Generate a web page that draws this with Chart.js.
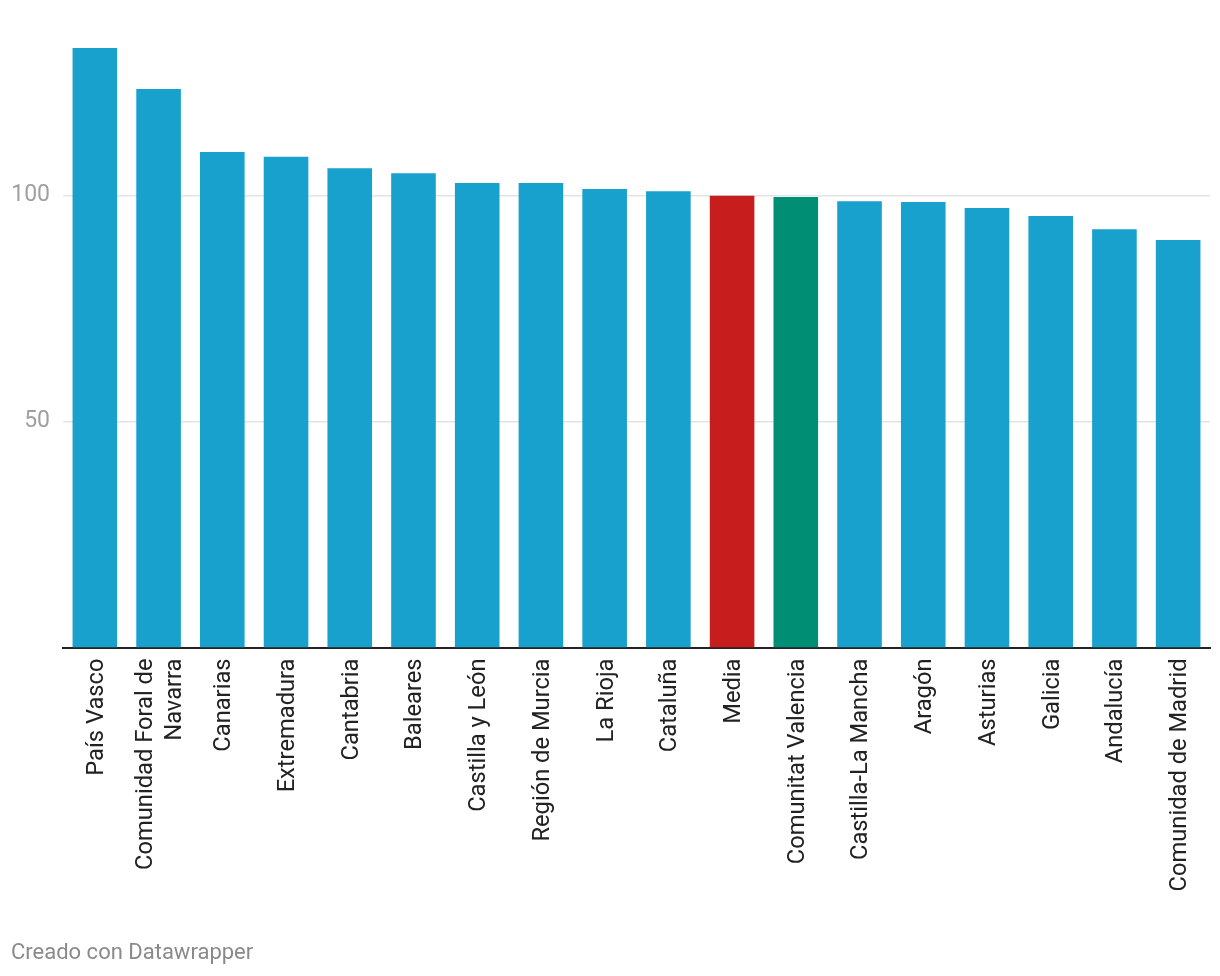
<!DOCTYPE html>
<html><head><meta charset="utf-8">
<script src="https://cdn.jsdelivr.net/npm/chart.js@4"></script>
<style>
html,body{margin:0;padding:0;background:#fff;}
#wrap{position:absolute;left:0;top:0;width:1220px;height:976px;}
#credit{position:absolute;left:11px;top:938px;font:22px Roboto, sans-serif;color:#8a8a8a;line-height:28px;}
</style>
</head><body>
<div id="wrap"><canvas id="c"></canvas></div>
<div id="credit">Creado con Datawrapper</div>
<script>
const categories = [
  'País Vasco', ['Comunidad Foral de', 'Navarra'], 'Canarias', 'Extremadura', 'Cantabria',
  'Baleares', 'Castilla y León', 'Región de Murcia', 'La Rioja', 'Cataluña', 'Media',
  'Comunitat Valencia', 'Castilla-La Mancha', 'Aragón', 'Asturias', 'Galicia', 'Andalucía',
  'Comunidad de Madrid'
];
const values = [132.7, 123.6, 109.7, 108.6, 106.1, 105.0, 102.8, 102.8, 101.5, 101.0, 100.0,
  99.7, 98.8, 98.6, 97.3, 95.5, 92.6, 90.2];
const barColors = ['#18a1cd','#18a1cd','#18a1cd','#18a1cd','#18a1cd','#18a1cd','#18a1cd','#18a1cd',
  '#18a1cd','#18a1cd','#c71e1d','#008f75','#18a1cd','#18a1cd','#18a1cd','#18a1cd','#18a1cd','#18a1cd'];
const yTicks = [50, 100];

// centre multi-line rotated category labels on their tick
const centerMultiline = {
  id: 'centerMultiline',
  beforeDraw(chart) {
    const s = chart.scales.x;
    const items = s.getLabelItems();
    items.forEach(it => {
      if (Array.isArray(it.label) && it.label.length > 1 && !it._centred) {
        it.options.translation[0] -= (it.label.length - 1) * it.font.lineHeight / 2;
        it._centred = true;
      }
    });
  }
};

new Chart(document.getElementById('c'), {
  type: 'bar',
  data: {
    labels: categories,
    datasets: [{ data: values, backgroundColor: barColors, borderWidth: 0,
      barPercentage: 0.7, categoryPercentage: 1.0 }]
  },
  plugins: [centerMultiline],
  options: {
    responsive: true,
    maintainAspectRatio: false,
    animation: false,
    layout: { padding: { top: 15, right: 10, left: 0, bottom: 0 } },
    plugins: { legend: { display: false }, tooltip: { enabled: false } },
    scales: {
      x: {
        type: 'category',
        grid: { display: false, drawTicks: false },
        border: { display: true, color: '#222', width: 2 },
        ticks: { color: '#222', font: { family: 'Roboto', size: 23.7 }, padding: 11,
          labelOffset: 2, maxRotation: 90, minRotation: 90, autoSkip: false },
        afterFit: (s) => { s.height = 976 - 647.5; s.paddingLeft = 0; s.paddingRight = 0; }
      },
      y: {
        min: 0, max: 140,
        grid: { color: '#e3e3e3', lineWidth: 1.5, drawTicks: false },
        border: { display: false },
        ticks: { color: '#a0a0a0', font: { family: 'Roboto', size: 23 }, padding: 13 },
        afterBuildTicks: (s) => { s.ticks = yTicks.map(v => ({ value: v })); },
        afterFit: (s) => { s.width = 63; s.paddingTop = 0; s.paddingBottom = 0; }
      }
    }
  }
});
</script>
</body></html>
